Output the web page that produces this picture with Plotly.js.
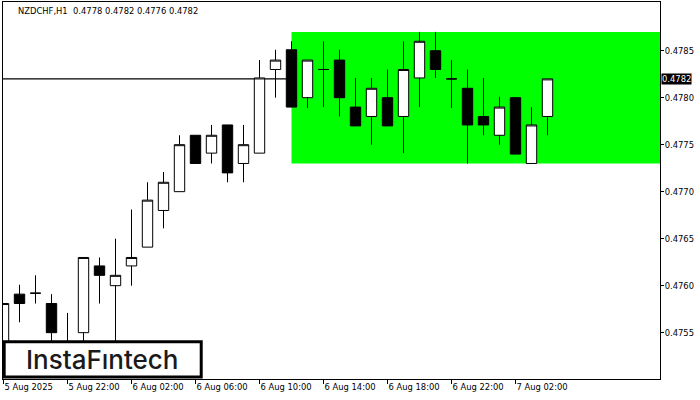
<!DOCTYPE html>
<html>
<head>
<meta charset="utf-8">
<script src="https://cdn.plot.ly/plotly-3.0.1.min.js"></script>
<style>
  html, body { margin: 0; padding: 0; background: #ffffff; }
  #chart { width: 700px; height: 400px; }
</style>
</head>
<body>
<div id="chart"></div>
<script>
// ---- data (hourly candles, NZDCHF H1, from 5 Aug 18:00 to 7 Aug 04:00) ----
var candleIndex = [0,1,2,3,4,5,6,7,8,9,10,11,12,13,14,15,16,17,18,19,20,21,22,23,24,25,26,27,28,29,30,31,32,33,34];
var openPrices  = [0.47525,0.47591,0.47592,0.47581,0.47535,0.47550,0.47621,0.47600,0.47621,0.47641,0.47680,0.47700,0.47760,0.47741,0.47771,0.47730,0.47741,0.47830,0.47851,0.47800,0.47830,0.47840,0.47790,0.47780,0.47800,0.47780,0.47821,0.47850,0.47820,0.47810,0.47780,0.47760,0.47800,0.47730,0.47780];
var highPrices  = [0.47581,0.47601,0.47611,0.47591,0.47571,0.47630,0.47630,0.47650,0.47681,0.47710,0.47721,0.47760,0.47760,0.47771,0.47771,0.47771,0.47840,0.47851,0.47860,0.47840,0.47860,0.47851,0.47821,0.47821,0.47830,0.47860,0.47870,0.47870,0.47840,0.47830,0.47821,0.47801,0.47800,0.47790,0.47820];
var lowPrices   = [0.47505,0.47561,0.47581,0.47520,0.47505,0.47520,0.47581,0.47530,0.47600,0.47641,0.47661,0.47700,0.47730,0.47730,0.47710,0.47710,0.47741,0.47800,0.47790,0.47789,0.47790,0.47780,0.47770,0.47750,0.47770,0.47741,0.47790,0.47821,0.47789,0.47730,0.47760,0.47750,0.47740,0.47730,0.47760];
var closePrices = [0.47581,0.47581,0.47592,0.47550,0.47540,0.47630,0.47611,0.47611,0.47630,0.47691,0.47710,0.47750,0.47730,0.47760,0.47720,0.47750,0.47821,0.47840,0.47790,0.47840,0.47830,0.47800,0.47770,0.47810,0.47770,0.47830,0.47860,0.47830,0.47820,0.47771,0.47771,0.47790,0.47740,0.47771,0.47820];

var xTickIndex = [0,4,8,12,16,20,24,28,32];
var xTickText  = ["5 Aug 2025","5 Aug 22:00","6 Aug 02:00","6 Aug 06:00","6 Aug 10:00","6 Aug 14:00","6 Aug 18:00","6 Aug 22:00","7 Aug 02:00"];
var yTickValues = [0.4755,0.4760,0.4765,0.4770,0.4775,0.4780,0.4785];

var zoneStartIndex = [18];
var zoneBounds = [0.4773, 0.4787];
var currentPrice = [0.4782];
var headerText = ["NZDCHF,H1  0.4778 0.4782 0.4776 0.4782"];
var logoText = ["InstaF\u0131ntech"];

// ---- chart ----
var xRange = [-0.03125, 41.03125];
var yRange = [0.475007, 0.479018];
var smallFont = {family: "DejaVu Sans, Verdana, sans-serif", size: 8.4, color: "#000000"};

var trace = {
  type: "candlestick",
  x: candleIndex,
  open: openPrices,
  high: highPrices,
  low: lowPrices,
  close: closePrices,
  increasing: {line: {color: "#000000", width: 1}, fillcolor: "#ffffff"},
  decreasing: {line: {color: "#000000", width: 1}, fillcolor: "#000000"},
  whiskerwidth: 0,
  hoverinfo: "skip",
  showlegend: false
};

var layout = {
  width: 700,
  height: 400,
  margin: {l: 3, r: 40, t: 2, b: 21, pad: 0},
  paper_bgcolor: "#ffffff",
  plot_bgcolor: "#ffffff",
  boxgap: 0.35,
  boxgroupgap: 0,
  showlegend: false,
  title: {
    text: headerText[0],
    x: 18/700, xanchor: "left", xref: "container",
    y: 1 - 10.7/400, yanchor: "middle", yref: "container",
    font: smallFont
  },
  xaxis: {
    type: "linear",
    range: xRange,
    fixedrange: true,
    showgrid: false,
    zeroline: false,
    showline: true, linecolor: "#000000", linewidth: 1, mirror: true,
    tickmode: "array", tickvals: xTickIndex, ticktext: xTickText,
    ticks: "outside", ticklen: 4, tickwidth: 1, tickcolor: "#000000",
    ticklabelposition: "outside right",
    tickfont: smallFont,
    rangeslider: {visible: false}
  },
  yaxis: {
    type: "linear",
    side: "right",
    range: yRange,
    fixedrange: true,
    showgrid: false,
    zeroline: false,
    showline: true, linecolor: "#000000", linewidth: 1, mirror: true,
    tickmode: "array", tickvals: yTickValues,
    tickformat: ".4f",
    ticks: "outside", ticklen: 3, tickwidth: 1, tickcolor: "#000000",
    ticklabelstandoff: -1,
    tickfont: smallFont
  },
  shapes: [
    {type: "rect", layer: "below", xref: "x", yref: "y",
     x0: zoneStartIndex[0], x1: xRange[1], y0: zoneBounds[0], y1: zoneBounds[1],
     fillcolor: "#00ff00", line: {width: 0}},
    {type: "line", layer: "below", xref: "paper", yref: "y",
     x0: 0, x1: 1, y0: currentPrice[0], y1: currentPrice[0],
     line: {color: "#000000", width: 1.2}},
    {type: "rect", layer: "above", xref: "paper", yref: "paper",
     x0: 0.0018, x1: 0.3017, y0: 0.0053, y1: 0.0989,
     fillcolor: "#ffffff", line: {color: "#000000", width: 3}}
  ],
  annotations: [
    {xref: "paper", yref: "y", x: 1, y: currentPrice[0], xanchor: "left", yanchor: "middle",
     xshift: 1, text: currentPrice[0].toFixed(4), showarrow: false,
     bgcolor: "#000000", borderpad: 0,
     font: {family: "DejaVu Sans, Verdana, sans-serif", size: 8.4, color: "#ffffff"}},
    {xref: "paper", yref: "paper", x: 0.1518, y: 0.052, xanchor: "center", yanchor: "middle",
     text: logoText[0], showarrow: false,
     font: {family: "Inter, Lato, sans-serif", size: 26, color: "#1a1a1a", weight: 500}}
  ]
};

Plotly.newPlot("chart", [trace], layout, {displayModeBar: false, staticPlot: true});
</script>
</body>
</html>
